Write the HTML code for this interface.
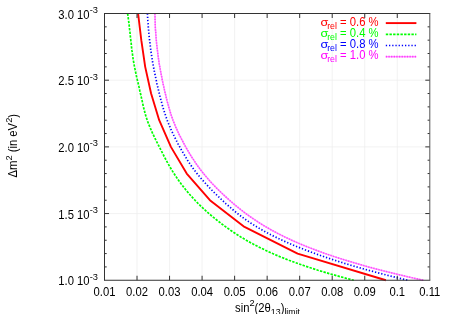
<!DOCTYPE html>
<html><head><meta charset="utf-8"><title>plot</title>
<style>
html,body{margin:0;padding:0;background:#fff;}
svg{display:block;will-change:transform;}
text{font-family:"Liberation Sans",sans-serif;font-size:11.5px;fill:#000;}
.s{font-size:9.0px;}
.p{font-size:9.5px;}
</style></head><body>
<svg width="449" height="314" viewBox="0 0 449 314">
<rect width="449" height="314" fill="#fff"/>

<g stroke="#ededed" stroke-width="0.7" fill="none">
<line x1="137.03" y1="13.5" x2="137.03" y2="280.25"/>
<line x1="169.56" y1="13.5" x2="169.56" y2="280.25"/>
<line x1="202.09" y1="13.5" x2="202.09" y2="280.25"/>
<line x1="234.62" y1="13.5" x2="234.62" y2="280.25"/>
<line x1="267.15" y1="13.5" x2="267.15" y2="280.25"/>
<line x1="299.68" y1="13.5" x2="299.68" y2="280.25"/>
<line x1="332.21" y1="13.5" x2="332.21" y2="280.25"/>
<line x1="364.74" y1="13.5" x2="364.74" y2="280.25"/>
<line x1="397.27" y1="13.5" x2="397.27" y2="280.25"/>
<line x1="104.5" y1="80.19" x2="429.8" y2="80.19"/>
<line x1="104.5" y1="146.88" x2="429.8" y2="146.88"/>
<line x1="104.5" y1="213.56" x2="429.8" y2="213.56"/>
</g>
<g fill="none" stroke-linejoin="round">
<path d="M127.6,13.50 L128.1,16.83 L128.5,20.17 L129.0,23.50 L129.3,26.84 L129.7,30.17 L130.1,33.51 L130.4,36.84 L130.8,40.17 L131.2,43.51 L131.5,46.84 L131.9,50.18 L132.4,53.51 L132.8,56.85 L133.3,60.18 L133.9,63.52 L134.5,66.85 L135.2,70.18 L135.9,73.52 L136.6,76.85 L137.4,80.19 L138.2,83.52 L139.0,86.86 L139.7,90.19 L140.5,93.53 L141.2,96.86 L142.0,100.19 L142.7,103.53 L143.4,106.86 L144.3,110.20 L145.1,113.53 L146.1,116.87 L147.2,120.20 L148.4,123.53 L149.8,126.87 L151.2,130.20 L152.7,133.54 L154.3,136.87 L155.9,140.21 L157.6,143.54 L159.3,146.88 L161.0,150.21 L162.7,153.54 L164.4,156.88 L166.2,160.21 L168.0,163.55 L169.9,166.88 L171.9,170.22 L174.0,173.55 L176.2,176.88 L178.5,180.22 L180.9,183.55 L183.5,186.89 L186.1,190.22 L188.9,193.56 L191.9,196.89 L195.0,200.22 L198.2,203.56 L201.7,206.89 L205.2,210.23 L209.0,213.56 L212.9,216.90 L217.0,220.23 L221.3,223.57 L225.8,226.90 L230.5,230.23 L235.5,233.57 L240.7,236.90 L246.3,240.24 L252.2,243.57 L258.6,246.91 L265.4,250.24 L272.7,253.58 L280.5,256.91 L288.9,260.24 L298.0,263.58 L307.7,266.91 L318.0,270.25 L329.2,273.58 L341.1,276.92 L353.8,280.25" stroke="#00ff00" stroke-width="1.7" stroke-dasharray="2.4,1.26"/>
<path d="M147.4,13.50 L147.6,16.83 L147.8,20.17 L148.1,23.50 L148.3,26.84 L148.6,30.17 L148.9,33.51 L149.2,36.84 L149.6,40.17 L150.0,43.51 L150.4,46.84 L150.8,50.18 L151.3,53.51 L151.8,56.85 L152.3,60.18 L152.9,63.52 L153.5,66.85 L154.1,70.18 L154.8,73.52 L155.5,76.85 L156.2,80.19 L156.9,83.52 L157.7,86.86 L158.5,90.19 L159.3,93.53 L160.1,96.86 L161.0,100.19 L161.9,103.53 L162.8,106.86 L163.8,110.20 L164.9,113.53 L166.0,116.87 L167.2,120.20 L168.5,123.53 L169.9,126.87 L171.3,130.20 L172.9,133.54 L174.5,136.87 L176.2,140.21 L177.9,143.54 L179.7,146.88 L181.5,150.21 L183.5,153.54 L185.5,156.88 L187.5,160.21 L189.7,163.55 L192.0,166.88 L194.4,170.22 L197.0,173.55 L199.7,176.88 L202.6,180.22 L205.6,183.55 L208.7,186.89 L211.9,190.22 L215.2,193.56 L218.7,196.89 L222.2,200.22 L225.8,203.56 L229.6,206.89 L233.5,210.23 L237.6,213.56 L241.9,216.90 L246.5,220.23 L251.5,223.57 L256.8,226.90 L262.5,230.23 L268.6,233.57 L275.2,236.90 L282.2,240.24 L289.7,243.57 L297.7,246.91 L306.1,250.24 L315.1,253.58 L324.6,256.91 L334.7,260.24 L345.3,263.58 L356.5,266.91 L368.4,270.25 L380.8,273.58 L393.9,276.92 L407.6,280.25" stroke="#0000ff" stroke-width="1.7" stroke-dasharray="1.3,1.9"/>
<path d="M154.9,13.50 L155.0,16.83 L155.1,20.17 L155.2,23.50 L155.3,26.84 L155.5,30.17 L155.8,33.51 L156.0,36.84 L156.3,40.17 L156.6,43.51 L157.0,46.84 L157.4,50.18 L157.8,53.51 L158.2,56.85 L158.7,60.18 L159.2,63.52 L159.8,66.85 L160.4,70.18 L161.0,73.52 L161.7,76.85 L162.3,80.19 L163.0,83.52 L163.8,86.86 L164.5,90.19 L165.3,93.53 L166.1,96.86 L166.9,100.19 L167.8,103.53 L168.7,106.86 L169.7,110.20 L170.7,113.53 L171.8,116.87 L173.0,120.20 L174.3,123.53 L175.7,126.87 L177.2,130.20 L178.7,133.54 L180.4,136.87 L182.1,140.21 L183.9,143.54 L185.7,146.88 L187.6,150.21 L189.6,153.54 L191.6,156.88 L193.8,160.21 L196.0,163.55 L198.4,166.88 L200.9,170.22 L203.5,173.55 L206.3,176.88 L209.2,180.22 L212.2,183.55 L215.4,186.89 L218.8,190.22 L222.2,193.56 L225.8,196.89 L229.5,200.22 L233.3,203.56 L237.3,206.89 L241.5,210.23 L245.9,213.56 L250.5,216.90 L255.3,220.23 L260.5,223.57 L266.0,226.90 L271.8,230.23 L278.1,233.57 L284.7,236.90 L291.8,240.24 L299.4,243.57 L307.5,246.91 L316.1,250.24 L325.3,253.58 L335.1,256.91 L345.6,260.24 L356.7,263.58 L368.5,266.91 L381.0,270.25 L394.3,273.58 L408.5,276.92 L423.4,280.25" stroke="#ff9cff" stroke-width="1.5"/>
<path d="M154.9,13.50 L155.0,16.83 L155.1,20.17 L155.2,23.50 L155.3,26.84 L155.5,30.17 L155.8,33.51 L156.0,36.84 L156.3,40.17 L156.6,43.51 L157.0,46.84 L157.4,50.18 L157.8,53.51 L158.2,56.85 L158.7,60.18 L159.2,63.52 L159.8,66.85 L160.4,70.18 L161.0,73.52 L161.7,76.85 L162.3,80.19 L163.0,83.52 L163.8,86.86 L164.5,90.19 L165.3,93.53 L166.1,96.86 L166.9,100.19 L167.8,103.53 L168.7,106.86 L169.7,110.20 L170.7,113.53 L171.8,116.87 L173.0,120.20 L174.3,123.53 L175.7,126.87 L177.2,130.20 L178.7,133.54 L180.4,136.87 L182.1,140.21 L183.9,143.54 L185.7,146.88 L187.6,150.21 L189.6,153.54 L191.6,156.88 L193.8,160.21 L196.0,163.55 L198.4,166.88 L200.9,170.22 L203.5,173.55 L206.3,176.88 L209.2,180.22 L212.2,183.55 L215.4,186.89 L218.8,190.22 L222.2,193.56 L225.8,196.89 L229.5,200.22 L233.3,203.56 L237.3,206.89 L241.5,210.23 L245.9,213.56 L250.5,216.90 L255.3,220.23 L260.5,223.57 L266.0,226.90 L271.8,230.23 L278.1,233.57 L284.7,236.90 L291.8,240.24 L299.4,243.57 L307.5,246.91 L316.1,250.24 L325.3,253.58 L335.1,256.91 L345.6,260.24 L356.7,263.58 L368.5,266.91 L381.0,270.25 L394.3,273.58 L408.5,276.92 L423.4,280.25" stroke="#ff48ff" stroke-width="1.5" stroke-dasharray="1.3,1.33"/>
<path d="M138.1,13.50 L141.3,40.17 L145.2,66.85 L151.1,93.53 L159.2,120.20 L170.9,146.88 L186.7,173.55 L209.9,200.22 L244.5,226.90 L297.6,253.57 L385.9,280.25" stroke="#ff0000" stroke-width="1.9"/>
</g>
<g stroke="#333" stroke-width="1" fill="none">
<line x1="137.03" y1="280.25" x2="137.03" y2="275.75"/>
<line x1="137.03" y1="13.5" x2="137.03" y2="18.0"/>
<line x1="169.56" y1="280.25" x2="169.56" y2="275.75"/>
<line x1="169.56" y1="13.5" x2="169.56" y2="18.0"/>
<line x1="202.09" y1="280.25" x2="202.09" y2="275.75"/>
<line x1="202.09" y1="13.5" x2="202.09" y2="18.0"/>
<line x1="234.62" y1="280.25" x2="234.62" y2="275.75"/>
<line x1="234.62" y1="13.5" x2="234.62" y2="18.0"/>
<line x1="267.15" y1="280.25" x2="267.15" y2="275.75"/>
<line x1="267.15" y1="13.5" x2="267.15" y2="18.0"/>
<line x1="299.68" y1="280.25" x2="299.68" y2="275.75"/>
<line x1="299.68" y1="13.5" x2="299.68" y2="18.0"/>
<line x1="332.21" y1="280.25" x2="332.21" y2="275.75"/>
<line x1="332.21" y1="13.5" x2="332.21" y2="18.0"/>
<line x1="364.74" y1="280.25" x2="364.74" y2="275.75"/>
<line x1="364.74" y1="13.5" x2="364.74" y2="18.0"/>
<line x1="397.27" y1="280.25" x2="397.27" y2="275.75"/>
<line x1="397.27" y1="13.5" x2="397.27" y2="18.0"/>
<line x1="104.5" y1="26.84" x2="106.7" y2="26.84"/>
<line x1="429.8" y1="26.84" x2="427.6" y2="26.84"/>
<line x1="104.5" y1="40.17" x2="106.7" y2="40.17"/>
<line x1="429.8" y1="40.17" x2="427.6" y2="40.17"/>
<line x1="104.5" y1="53.51" x2="106.7" y2="53.51"/>
<line x1="429.8" y1="53.51" x2="427.6" y2="53.51"/>
<line x1="104.5" y1="66.85" x2="106.7" y2="66.85"/>
<line x1="429.8" y1="66.85" x2="427.6" y2="66.85"/>
<line x1="104.5" y1="80.19" x2="109.0" y2="80.19"/>
<line x1="429.8" y1="80.19" x2="425.3" y2="80.19"/>
<line x1="104.5" y1="93.53" x2="106.7" y2="93.53"/>
<line x1="429.8" y1="93.53" x2="427.6" y2="93.53"/>
<line x1="104.5" y1="106.86" x2="106.7" y2="106.86"/>
<line x1="429.8" y1="106.86" x2="427.6" y2="106.86"/>
<line x1="104.5" y1="120.20" x2="106.7" y2="120.20"/>
<line x1="429.8" y1="120.20" x2="427.6" y2="120.20"/>
<line x1="104.5" y1="133.54" x2="106.7" y2="133.54"/>
<line x1="429.8" y1="133.54" x2="427.6" y2="133.54"/>
<line x1="104.5" y1="146.88" x2="109.0" y2="146.88"/>
<line x1="429.8" y1="146.88" x2="425.3" y2="146.88"/>
<line x1="104.5" y1="160.21" x2="106.7" y2="160.21"/>
<line x1="429.8" y1="160.21" x2="427.6" y2="160.21"/>
<line x1="104.5" y1="173.55" x2="106.7" y2="173.55"/>
<line x1="429.8" y1="173.55" x2="427.6" y2="173.55"/>
<line x1="104.5" y1="186.89" x2="106.7" y2="186.89"/>
<line x1="429.8" y1="186.89" x2="427.6" y2="186.89"/>
<line x1="104.5" y1="200.22" x2="106.7" y2="200.22"/>
<line x1="429.8" y1="200.22" x2="427.6" y2="200.22"/>
<line x1="104.5" y1="213.56" x2="109.0" y2="213.56"/>
<line x1="429.8" y1="213.56" x2="425.3" y2="213.56"/>
<line x1="104.5" y1="226.90" x2="106.7" y2="226.90"/>
<line x1="429.8" y1="226.90" x2="427.6" y2="226.90"/>
<line x1="104.5" y1="240.24" x2="106.7" y2="240.24"/>
<line x1="429.8" y1="240.24" x2="427.6" y2="240.24"/>
<line x1="104.5" y1="253.57" x2="106.7" y2="253.57"/>
<line x1="429.8" y1="253.57" x2="427.6" y2="253.57"/>
<line x1="104.5" y1="266.91" x2="106.7" y2="266.91"/>
<line x1="429.8" y1="266.91" x2="427.6" y2="266.91"/>
<path d="M104.0,13.5 H430.3 M104.0,280.25 H430.3 M104.5,13.5 V280.25"/>
<path d="M429.8,13.5 V280.25" stroke="#555"/>
</g>
<text transform="translate(104.50,295.70) scale(0.98,1.04)" text-anchor="middle">0.01</text>
<text transform="translate(137.03,295.70) scale(0.98,1.04)" text-anchor="middle">0.02</text>
<text transform="translate(169.56,295.70) scale(0.98,1.04)" text-anchor="middle">0.03</text>
<text transform="translate(202.09,295.70) scale(0.98,1.04)" text-anchor="middle">0.04</text>
<text transform="translate(234.62,295.70) scale(0.98,1.04)" text-anchor="middle">0.05</text>
<text transform="translate(267.15,295.70) scale(0.98,1.04)" text-anchor="middle">0.06</text>
<text transform="translate(299.68,295.70) scale(0.98,1.04)" text-anchor="middle">0.07</text>
<text transform="translate(332.21,295.70) scale(0.98,1.04)" text-anchor="middle">0.08</text>
<text transform="translate(364.74,295.70) scale(0.98,1.04)" text-anchor="middle">0.09</text>
<text transform="translate(397.27,295.70) scale(0.98,1.04)" text-anchor="middle">0.1</text>
<text transform="translate(429.80,295.70) scale(0.98,1.04)" text-anchor="middle">0.11</text>
<text transform="translate(97.90,18.60) scale(0.98,1.04)" text-anchor="end">3.0 10<tspan class="p" dy="-5.4">-3</tspan></text>
<text transform="translate(97.90,85.29) scale(0.98,1.04)" text-anchor="end">2.5 10<tspan class="p" dy="-5.4">-3</tspan></text>
<text transform="translate(97.90,151.97) scale(0.98,1.04)" text-anchor="end">2.0 10<tspan class="p" dy="-5.4">-3</tspan></text>
<text transform="translate(97.90,218.66) scale(0.98,1.04)" text-anchor="end">1.5 10<tspan class="p" dy="-5.4">-3</tspan></text>
<text transform="translate(97.90,285.35) scale(0.98,1.04)" text-anchor="end">1.0 10<tspan class="p" dy="-5.4">-3</tspan></text>
<text transform="translate(235.00,311.80) scale(0.98,1.04)" text-anchor="start">sin<tspan class="p" dy="-5.4">2</tspan><tspan dy="5.4">(2θ</tspan><tspan class="s" dy="3.0">13</tspan><tspan dy="-3.0">)</tspan><tspan class="s" dy="3.0">limit</tspan></text>
<text transform="translate(17.30,177.50) rotate(-90) scale(0.98,1.04)" text-anchor="start">Δm<tspan class="p" dy="-5.4">2</tspan><tspan dy="5.4"> (in eV</tspan><tspan class="p" dy="-5.4">2</tspan><tspan dy="5.4">)</tspan></text>
<text transform="translate(320.5,25.60) scale(1.098,0.874)" style="fill:#ff0000">σ</text>
<text transform="translate(378.60,28.72) scale(0.98,1.04)" text-anchor="end" style="fill:#ff0000"><tspan class="s">rel</tspan><tspan dy="-3.0"> = 0.6 %</tspan></text>
<line x1="385.8" y1="23.10" x2="416.4" y2="23.10" stroke="#ff0000" stroke-width="1.9"/>
<text transform="translate(320.5,36.70) scale(1.098,0.874)" style="fill:#00ff00">σ</text>
<text transform="translate(378.60,39.82) scale(0.98,1.04)" text-anchor="end" style="fill:#00ff00"><tspan class="s">rel</tspan><tspan dy="-3.0"> = 0.4 %</tspan></text>
<line x1="385.8" y1="34.30" x2="416.4" y2="34.30" stroke="#00ff00" stroke-width="1.7" stroke-dasharray="2.4,1.26"/>
<text transform="translate(320.5,47.80) scale(1.098,0.874)" style="fill:#0000ff">σ</text>
<text transform="translate(378.60,50.92) scale(0.98,1.04)" text-anchor="end" style="fill:#0000ff"><tspan class="s">rel</tspan><tspan dy="-3.0"> = 0.8 %</tspan></text>
<line x1="385.8" y1="45.50" x2="416.4" y2="45.50" stroke="#0000ff" stroke-width="1.7" stroke-dasharray="1.3,1.9"/>
<text transform="translate(320.5,58.90) scale(1.098,0.874)" style="fill:#ff00ff">σ</text>
<text transform="translate(378.60,62.02) scale(0.98,1.04)" text-anchor="end" style="fill:#ff00ff"><tspan class="s">rel</tspan><tspan dy="-3.0"> = 1.0 %</tspan></text>
<line x1="385.8" y1="56.70" x2="416.4" y2="56.70" stroke="#ff9cff" stroke-width="1.5"/>
<line x1="385.8" y1="56.70" x2="416.4" y2="56.70" stroke="#ff38ff" stroke-width="1.7" stroke-dasharray="1.3,1.33"/>
</svg></body></html>
